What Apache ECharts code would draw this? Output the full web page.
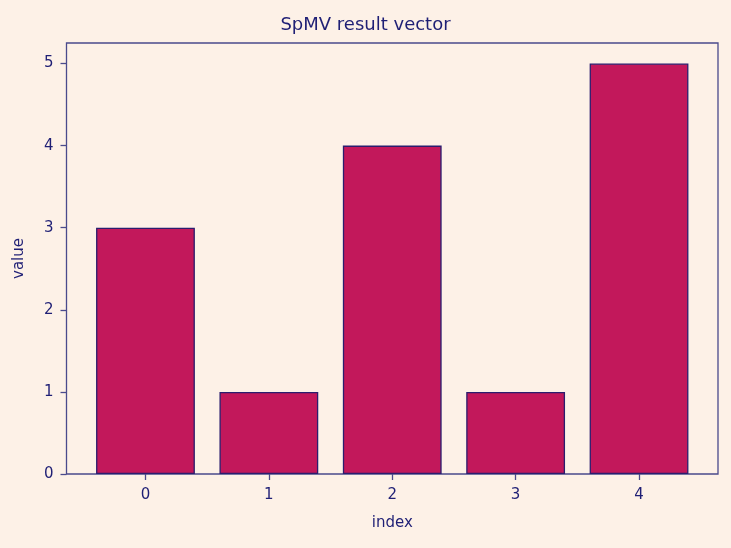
<!DOCTYPE html>
<html>
<head>
<meta charset="utf-8">
<script src="https://cdn.jsdelivr.net/npm/echarts@6/dist/echarts.min.js"></script>
<style>
  html, body { margin: 0; padding: 0; background: #fdf1e7; }
  #container { width: 731px; height: 548px; }
</style>
</head>
<body>
<div id="container"></div>
<script>
var indices = [0, 1, 2, 3, 4];
var values = [3, 1, 4, 1, 5];
var yTicks = [0, 1, 2, 3, 4, 5];

var dom = document.getElementById('container');
var myChart = echarts.init(dom, null, { renderer: 'canvas' });

var textColor = '#1f1f75';
var spineColor = '#4a4a8c';
var font = 'DejaVu Sans';

var option = {
  backgroundColor: '#fdf1e7',
  animation: false,
  title: {
    text: 'SpMV result vector',
    left: 'center',
    top: 11,
    textStyle: { color: textColor, fontFamily: font, fontSize: 18, fontWeight: 'normal' }
  },
  grid: {
    left: 66.5, right: 13, top: 43, bottom: 74,
    show: true,
    borderColor: spineColor,
    borderWidth: 1.3,
    backgroundColor: 'transparent'
  },
  xAxis: {
    type: 'value',
    min: -0.64,
    max: 4.64,
    name: 'index',
    nameLocation: 'middle',
    nameGap: 42,
    nameTextStyle: { color: textColor, fontFamily: font, fontSize: 15 },
    axisLine: { show: false, onZero: false },
    splitLine: { show: false },
    axisTick: { show: true, customValues: indices, length: 6, lineStyle: { color: spineColor, width: 1.3 } },
    axisLabel: { customValues: indices, color: textColor, fontFamily: font, fontSize: 15, margin: 14 }
  },
  yAxis: {
    type: 'value',
    min: 0,
    max: 5.25,
    name: 'value',
    nameLocation: 'middle',
    nameGap: 40,
    nameTextStyle: { color: textColor, fontFamily: font, fontSize: 15 },
    axisLine: { show: false, onZero: false },
    splitLine: { show: false },
    axisTick: { show: true, customValues: yTicks, length: 6, lineStyle: { color: spineColor, width: 1.3 } },
    axisLabel: { customValues: yTicks, color: textColor, fontFamily: font, fontSize: 15, margin: 13 }
  },
  series: [{
    type: 'bar',
    data: indices.map(function (i, k) { return [i, values[k]]; }),
    barWidth: 98.8,
    itemStyle: { color: '#c2185b', borderColor: '#2b1d6e', borderWidth: 1.3 }
  }]
};

myChart.setOption(option);
window.addEventListener('resize', myChart.resize);
</script>
</body>
</html>
